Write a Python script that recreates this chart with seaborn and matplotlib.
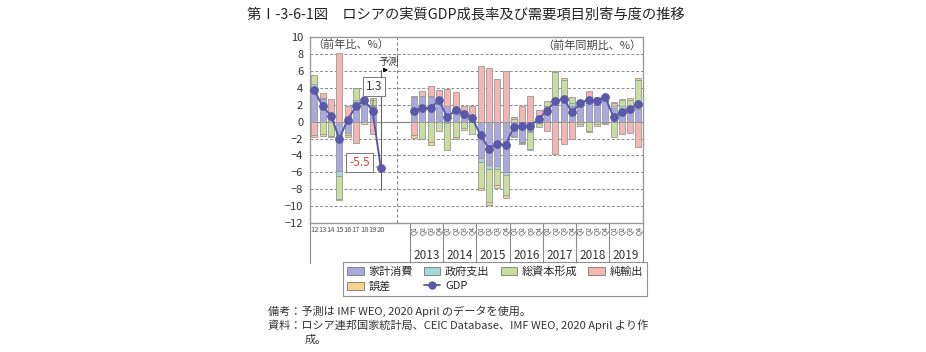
import numpy as np
import pandas as pd
import matplotlib
matplotlib.use("Agg")
import matplotlib.pyplot as plt
import seaborn as sns
from matplotlib.patches import Patch
from matplotlib.lines import Line2D

sns.set_theme(style="white")
plt.rcParams['font.family'] = ['Noto Sans CJK JP', 'DejaVu Sans']

# annual data (2012-2020, 2020 = IMF forecast)
years_a = ['12', '13', '14', '15', '16', '17', '18', '19', '20']
hh_a = [4.1, 2.7, 0.9, -5.8, -1.3, 2.3, 2.0, 1.8, 0]
gov_a = [0.3, 0.1, -0.1, -0.6, -0.1, 0.2, 0.1, 0.2, 0]
gfcf_a = [1.1, -1.5, -1.6, -2.8, -0.2, 1.5, 0.3, 0.6, 0]
nx_a = [-1.6, 0.6, 1.8, 8.1, 1.9, -2.5, 0.4, -1.5, 0]
err_a = [-0.25, -0.15, -0.1, -0.1, -0.2, 0.0, -0.3, 0.2, 0]
gdp_a = [3.7, 1.8, 0.7, -2.0, 0.2, 1.8, 2.5, 1.3, -5.5]

# quarterly data (2013Q1-2019Q4)
years_q = ['2013', '2014', '2015', '2016', '2017', '2018', '2019']
quarters = ['Q1', 'Q2', 'Q3', 'Q4']
hh_q = [2.9, 3.0, 2.9, 2.9, 1.9, 1.5, 0.9, 0.5, -4.3, -5.1, -5.2, -6.0, -1.7, -2.4,
        -1.1, 0.3, 1.8, 2.2, 2.6, 1.9, 2.1, 2.3, 2.1, 2.6, 1.6, 1.5, 1.5, 1.5]
gov_q = [0.0, 0.05, 0.1, 0.05, -0.2, 0.0, 0.0, 0.0, -0.5, -0.5, -0.4, -0.3, -0.15, -0.1,
         -0.1, 0.05, 0.1, 0.1, 0.1, 0.3, 0.3, 0.2, 0.3, 0.2, 0.3, 0.4, 0.4, 0.4]
gfcf_q = [0.1, -2.0, -2.4, -1.1, -3.2, -1.8, -0.7, -1.45, -3.0, -3.9, -1.9, -2.4, 0.25, 0.0,
          -2.0, -0.6, 0.5, 3.6, 2.2, 0.7, -0.3, -1.1, -0.3, 0.3, -1.8, 0.6, 0.7, 3.0]
nx_q = [-1.6, 0.6, 1.2, 0.8, 1.9, 2.0, 0.9, 1.3, 6.6, 6.3, 5.0, 6.0, 0.3, 1.9,
        3.0, 1.0, -1.1, -3.8, -2.6, -2.0, 0.1, 1.1, 0.5, -0.2, 0.3, -1.5, -1.4, -3.0]
err_q = [-0.3, -0.1, -0.35, 0.0, 0.0, -0.25, -0.25, 0.0, -0.3, -0.4, -0.3, -0.3, 0.0, -0.2,
         -0.1, 0.0, 0.0, 0.1, 0.2, -0.1, -0.2, -0.15, -0.2, -0.1, 0.1, 0.2, 0.2, 0.2]
gdp_q = [1.2, 1.6, 1.6, 2.5, 0.5, 1.4, 0.9, 0.4, -1.6, -3.2, -2.6, -2.8, -0.6, -0.5,
         -0.5, 0.3, 1.3, 2.4, 2.7, 1.1, 2.2, 2.6, 2.4, 2.9, 0.5, 1.1, 1.5, 2.1]

names = ['家計消費', '政府支出', '総資本形成', '純輸出', '誤差']
colors = ['#aaa9df', '#a3dad5', '#c8dd9e', '#f5b6b3', '#f8d38f']
line_col = '#5a59a8'
edge = '#9a9a9a'

pos_a = np.arange(len(years_a))
pos_q = np.arange(len(gdp_q)) + 12

fig = plt.figure(figsize=(9.26, 3.52), dpi=100)
ax = fig.add_axes([0.335, 0.366, 0.359, 0.529])


def stacked(pos, comps):
    pos_base = np.zeros(len(pos))
    neg_base = np.zeros(len(pos))
    for vals, c in zip(comps, colors):
        v = np.array(vals, dtype=float)
        b = np.where(v >= 0, pos_base, neg_base)
        ax.bar(pos, v, bottom=b, width=0.72, color=c, edgecolor=edge, linewidth=0.6, zorder=2)
        pos_base += np.where(v >= 0, v, 0)
        neg_base += np.where(v < 0, v, 0)


stacked(pos_a, [hh_a, gov_a, gfcf_a, nx_a, err_a])
stacked(pos_q, [hh_q, gov_q, gfcf_q, nx_q, err_q])

df_a = pd.DataFrame({'x': pos_a, 'GDP': gdp_a})
df_q = pd.DataFrame({'x': pos_q, 'GDP': gdp_q})
for d in (df_a, df_q):
    sns.lineplot(data=d, x='x', y='GDP', ax=ax, color=line_col, marker='o', markersize=5.5,
                 markeredgecolor=line_col, linewidth=1.4, zorder=5)

ax.set_xlim(-0.5, 39.5)
ax.set_ylim(-12, 10)
ax.set_yticks(range(-12, 11, 2))
ax.tick_params(axis='y', labelsize=8, length=3, width=0.6, color='#888', labelcolor='#333', pad=2)
ax.yaxis.grid(True, linestyle=(0, (3, 2)), color='#8a8a8a', linewidth=0.7)
ax.set_axisbelow(True)
ax.axhline(0, color='#8a8a8a', linewidth=0.9, zorder=1)
ax.axvline(10, color='#8a8a8a', linestyle=(0, (3, 2)), linewidth=0.8, zorder=1)
for s in ax.spines.values():
    s.set_color('#9a9a9a')
    s.set_linewidth(1.0)
ax.set_xlabel('')
ax.set_ylabel('')

# x labels
ticks = list(pos_a) + list(pos_q)
labels = years_a + quarters * len(years_q)
ax.set_xticks(ticks)
ax.set_xticklabels(labels)
ax.tick_params(axis='x', length=0, pad=2, labelcolor='#555')
for i, t in enumerate(ax.get_xticklabels()):
    if i < len(years_a):
        t.set_fontsize(5.5)
    else:
        t.set_fontsize(5)
        t.set_rotation(90)

tr = ax.get_xaxis_transform()
for xb in [-0.5] + [11.5 + 4 * k for k in range(8)]:
    ax.plot([xb, xb], [0, -0.215], color='#8a8a8a', linewidth=0.8, transform=tr, clip_on=False)
for k, y in enumerate(years_q):
    ax.text(13.5 + 4 * k, -0.175, y, transform=tr, ha='center', va='center', fontsize=8.5, color='#333')

ax.text(0.006, 0.985, '（前年比、%）', transform=ax.transAxes, ha='left', va='top', fontsize=8, color='#444')
ax.text(0.997, 0.985, '（前年同期比、%）', transform=ax.transAxes, ha='right', va='top', fontsize=8, color='#444')

# forecast marker
ax.plot([8, 8], [6.1, -8.1], color='#666', linewidth=0.8, zorder=3)
ax.annotate('', xy=(9.2, 6.1), xytext=(8, 6.1),
            arrowprops=dict(arrowstyle='-|>', color='black', lw=0.7, mutation_scale=6))
ax.text(9.0, 7.0, '予測', ha='center', va='center', fontsize=7.5, color='#333')
ax.annotate('1.3', xy=(7, 1.3), xytext=(7.15, 4.2), ha='center', va='center', fontsize=8.5, color='#333',
            bbox=dict(boxstyle='square,pad=0.25', fc='white', ec='#777', lw=0.7),
            arrowprops=dict(arrowstyle='-', color='#777', lw=0.7), zorder=6)
ax.annotate('-5.5', xy=(8, -5.5), xytext=(5.45, -4.85), ha='center', va='center', fontsize=8.5,
            color='#e8403a', bbox=dict(boxstyle='square,pad=0.25', fc='white', ec='#777', lw=0.7),
            arrowprops=dict(arrowstyle='-', color='#777', lw=0.7), zorder=6)

# legend
patches = [Patch(facecolor=c, edgecolor='#777', linewidth=0.6, label=n) for n, c in zip(names, colors)]
gdp_h = Line2D([], [], color=line_col, marker='o', markersize=5, linewidth=1.3, label='GDP')
handles = [patches[0], patches[4], patches[1], gdp_h, patches[2], patches[3]]
leg = fig.legend(handles=handles, ncol=4, loc='upper left', bbox_to_anchor=(0.370, 0.256),
                 bbox_transform=fig.transFigure, fontsize=8, frameon=True, fancybox=False,
                 handlelength=1.5, handleheight=0.75, handletextpad=0.4, columnspacing=1.0,
                 labelspacing=0.35, borderpad=0.4, borderaxespad=0)
leg.get_frame().set_edgecolor('#777')
leg.get_frame().set_linewidth(0.8)

fig.text(0.503, 0.958, '第Ⅰ-3-6-1図　ロシアの実質GDP成長率及び需要項目別寄与度の推移',
         ha='center', va='center', fontsize=10.3, color='#222')
fig.text(0.289, 0.116, '備考：予測は IMF WEO, 2020 April のデータを使用。', ha='left', va='center', fontsize=8, color='#333')
fig.text(0.289, 0.076, '資料：ロシア連邦国家統計局、CEIC Database、IMF WEO, 2020 April より作',
         ha='left', va='center', fontsize=8, color='#333')
fig.text(0.329, 0.036, '成。', ha='left', va='center', fontsize=8, color='#333')

fig.savefig('out.png', dpi=100)
